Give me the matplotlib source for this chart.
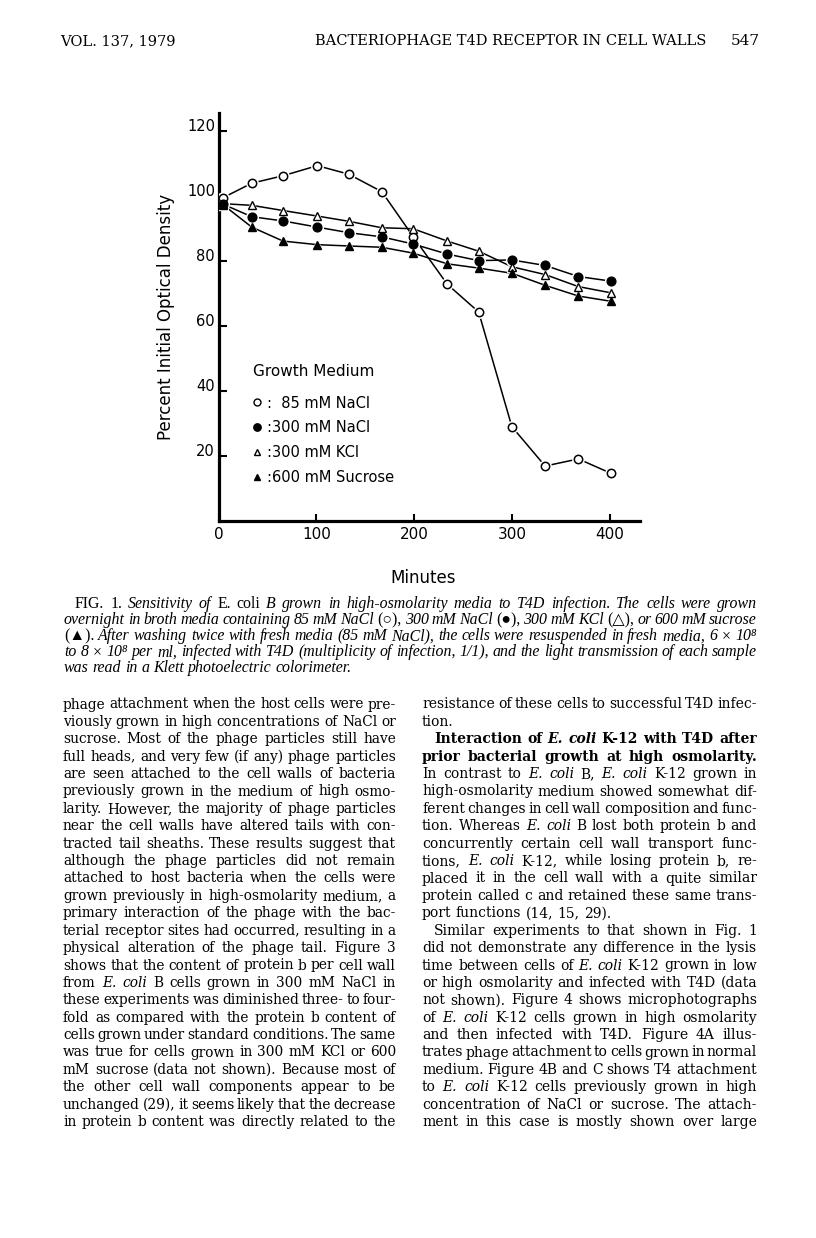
import numpy as np
import matplotlib
matplotlib.use("Agg")
import matplotlib.pyplot as plt
from matplotlib.lines import Line2D

W, H = 816, 1238
SERIF = ["DejaVu Serif", "DejaVu Sans"]
CAPTION_SERIF = ["Liberation Serif", "DejaVu Serif", "DejaVu Sans"]

# ===============================
# Chart data
# ===============================
minutes = [5, 34, 66, 101, 133, 167, 199, 234, 266, 300, 334, 368, 401]
nacl_85 = [99.5, 103.9, 106.2, 109.3, 106.7, 101.3, 87.5, 72.8, 64.3, 29.0, 16.9, 19.1, 14.7]
nacl_300 = [97.4, 93.6, 92.3, 90.4, 88.7, 87.4, 85.2, 82.1, 80.1, 80.3, 78.6, 75.2, 73.8]
kcl_300 = [97.6, 97.1, 95.5, 93.8, 92.2, 90.2, 89.9, 86.1, 83.0, 78.2, 75.8, 72.1, 70.2]
sucrose_600 = [97.2, 90.4, 86.1, 85.0, 84.6, 84.2, 82.4, 79.1, 77.8, 76.2, 72.5, 69.2, 67.6]

legend_title = "Growth Medium"
legend_labels = [":\u200785 mM NaCl", ":300 mM NaCl", ":300 mM KCl", ":600 mM Sucrose"]
x_ticks = [0, 100, 200, 300, 400]
y_ticks = [20, 40, 60, 80, 100, 120]

# ===============================
# Page text
# ===============================
header_left = "VOL. 137, 1979"
header_title = "BACTERIOPHAGE T4D RECEPTOR IN CELL WALLS"
header_page = "547"

caption_lines = [
    "_FIG._ _1._ Sensitivity of _E._ _coli_ B grown in high-osmolarity media to T4D infection. The cells were grown",
    "overnight in broth media containing 85 mM NaCl _(\u25cb),_ 300 mM NaCl _(\u25cf),_ 300 mM KCl _(\u25b3),_ or 600 mM sucrose",
    "_(\u25b2)._ After washing twice with fresh media (85 mM NaCl), the cells were resuspended in fresh media, 6 \u00d7 10\u2078",
    "to 8 \u00d7 10\u2078 per ml, infected with T4D (multiplicity of infection, 1/1), and the light transmission of each sample",
    "was read in a Klett photoelectric colorimeter.",
]

left_lines = [
    "phage attachment when the host cells were pre-",
    "viously grown in high concentrations of NaCl or",
    "sucrose. Most of the phage particles still have",
    "full heads, and very few (if any) phage particles",
    "are seen attached to the cell walls of bacteria",
    "previously grown in the medium of high osmo-",
    "larity. However, the majority of phage particles",
    "near the cell walls have altered tails with con-",
    "tracted tail sheaths. These results suggest that",
    "although the phage particles did not remain",
    "attached to host bacteria when the cells were",
    "grown previously in high-osmolarity medium, a",
    "primary interaction of the phage with the bac-",
    "terial receptor sites had occurred, resulting in a",
    "physical alteration of the phage tail. Figure 3",
    "shows that the content of protein b per cell wall",
    "from _E._ _coli_ B cells grown in 300 mM NaCl in",
    "these experiments was diminished three- to four-",
    "fold as compared with the protein b content of",
    "cells grown under standard conditions. The same",
    "was true for cells grown in 300 mM KCl or 600",
    "mM sucrose (data not shown). Because most of",
    "the other cell wall components appear to be",
    "unchanged (29), it seems likely that the decrease",
    "in protein b content was directly related to the",
]

right_lines = [
    "resistance of these cells to successful T4D infec-",
    "tion.",
    "Interaction of _E._ _coli_ K-12 with T4D after",
    "prior bacterial growth at high osmolarity.",
    "In contrast to _E._ _coli_ B, _E._ _coli_ K-12 grown in",
    "high-osmolarity medium showed somewhat dif-",
    "ferent changes in cell wall composition and func-",
    "tion. Whereas _E._ _coli_ B lost both protein b and",
    "concurrently certain cell wall transport func-",
    "tions, _E._ _coli_ K-12, while losing protein b, re-",
    "placed it in the cell wall with a quite similar",
    "protein called c and retained these same trans-",
    "port functions (14, 15, 29).",
    "Similar experiments to that shown in Fig. 1",
    "did not demonstrate any difference in the lysis",
    "time between cells of _E._ _coli_ K-12 grown in low",
    "or high osmolarity and infected with T4D (data",
    "not shown). Figure 4 shows microphotographs",
    "of _E._ _coli_ K-12 cells grown in high osmolarity",
    "and then infected with T4D. Figure 4A illus-",
    "trates phage attachment to cells grown in normal",
    "medium. Figure 4B and C shows T4 attachment",
    "to _E._ _coli_ K-12 cells previously grown in high",
    "concentration of NaCl or sucrose. The attach-",
    "ment in this case is mostly shown over large",
]
right_ragged = {1, 12}
right_indent = {2, 13}
right_bold = {2, 3}

# ===============================
# Figure + chart
# ===============================
fig = plt.figure(figsize=(W / 100, H / 100), dpi=100)
fig.patch.set_facecolor("white")

ax = fig.add_axes([218.5 / W, 1 - 521 / H, (640 - 218.5) / W, (521 - 113) / H])
ax.set_xlim(0, 431)
ax.set_ylim(0, 125.5)
for s in ["top", "right"]:
    ax.spines[s].set_visible(False)
for s in ["left", "bottom"]:
    ax.spines[s].set_linewidth(2.3)

ax.set_xticks(x_ticks)
ax.set_yticks(y_ticks)
ax.tick_params(axis="x", direction="in", length=5, width=1.5, pad=4, labelsize=11)
ax.tick_params(axis="y", direction="in", length=5.5, width=1.5, pad=2.5, labelsize=10.5)
for lab in ax.get_yticklabels():
    lab.set_verticalalignment("baseline")

series = [
    (nacl_85, dict(marker="o", mfc="white", mec="black", ms=6, mew=1.1)),
    (nacl_300, dict(marker="o", mfc="black", mec="black", ms=6.3, mew=1.0)),
    (kcl_300, dict(marker="^", mfc="white", mec="black", ms=5.5, mew=1.0)),
    (sucrose_600, dict(marker="^", mfc="black", mec="black", ms=5.5, mew=1.0)),
]

for vals, st in series:
    ax.plot(minutes, vals, color="black", lw=1.1, zorder=2)
# little white halos so the lines stop short of the symbols
for vals, st in series:
    ax.plot(minutes, vals, ls="none", marker=st["marker"], ms=st["ms"] + 2.2,
            mfc="white", mec="white", zorder=3)
for vals, st in series:
    ax.plot(minutes, vals, ls="none", zorder=4, **st)

ax.set_ylabel("Percent Initial Optical Density", fontsize=12)
ax.yaxis.set_label_coords((166 - 218.5) / 421.5, 0.5)
ax.yaxis.label.set_verticalalignment("center")
ax.set_xlabel("Minutes", fontsize=12)
ax.xaxis.set_label_coords((423 - 218.5) / 421.5, (521 - 578) / 408)
ax.xaxis.label.set_verticalalignment("center")

ax.text((253 - 218.5) / 421.5, (521 - 372) / 408, legend_title, transform=ax.transAxes,
        fontsize=11, va="center", ha="left")
handles = [Line2D([], [], ls="none", marker=st["marker"], mfc=st["mfc"], mec="black",
                  ms=st["ms"] - 1, mew=1.0) for _, st in series]
ax.legend(handles, legend_labels, loc="upper left",
          bbox_to_anchor=((253 - 218.5) / 421.5, (521 - 395.5) / 408),
          frameon=False, borderpad=0, borderaxespad=0, handlelength=0.6,
          handletextpad=0.35, labelspacing=0.68, fontsize=10.5)

# ===============================
# Text helpers (justified columns)
# ===============================
renderer = fig.canvas.get_renderer()

STYLES = {
    "roman": dict(style="normal", weight="normal"),
    "italic": dict(style="italic", weight="normal"),
    "bold": dict(style="normal", weight="bold"),
    "bolditalic": dict(style="italic", weight="bold"),
}
TOGGLE = {"roman": "italic", "italic": "roman", "bold": "bolditalic"}


def make_words(line, base, size, family):
    arts = []
    for tok in line.split(" "):
        st = base
        if len(tok) > 2 and tok.startswith("_") and tok.endswith("_"):
            tok = tok[1:-1]
            st = TOGGLE[base]
        arts.append(fig.text(0, 0, tok, fontsize=size, family=family,
                             va="baseline", ha="left", color="black", **STYLES[st]))
    return arts


def space_width(base, size, family):
    a = fig.text(0, 0, "n n", fontsize=size, family=family, **STYLES[base])
    b = fig.text(0, 0, "nn", fontsize=size, family=family, **STYLES[base])
    w = a.get_window_extent(renderer).width - b.get_window_extent(renderer).width
    a.remove()
    b.remove()
    return w


def widths(arts):
    return [a.get_window_extent(renderer).width for a in arts]


def layout_block(lines, bases, x0, x1, y0, dy, ragged, indents, indent_px,
                 trial=9.0, family=SERIF):
    col = x1 - x0
    all_arts = [make_words(l, b, trial, family) for l, b in zip(lines, bases)]
    sp = space_width(bases[0], trial, family)
    r_norm, r_min = [], []
    for i, arts in enumerate(all_arts):
        if i in ragged:
            continue
        w = sum(widths(arts)) + (indent_px if i in indents else 0)
        n = len(arts) - 1
        r_norm.append((w + n * sp) / col)
        r_min.append((w + 0.55 * n * sp) / col)
    f = min(1 / np.median(r_norm), 1 / max(r_min))
    size = trial * f
    sp = space_width(bases[0], size, family)
    for i, arts in enumerate(all_arts):
        for a in arts:
            a.set_fontsize(size)
        ws = widths(arts)
        start = x0 + (indent_px if i in indents else 0)
        if i in ragged or len(arts) == 1:
            gap = sp
        else:
            gap = (x1 - start - sum(ws)) / (len(arts) - 1)
        x = start
        y = y0 + i * dy
        for a, w in zip(arts, ws):
            a.set_position((x / W, 1 - y / H))
            x += w + gap
    return size


# Running header
t = fig.text(0, 0, header_title, fontsize=10, family=SERIF, va="baseline")
tw = t.get_window_extent(renderer).width
hsize = 10 * 390 / tw
t.set_fontsize(hsize)
t.set_position((315 / W, 1 - 45 / H))
fig.text(60 / W, 1 - 45 / H, header_left, fontsize=hsize, family=SERIF, va="baseline", ha="left")
fig.text(760 / W, 1 - 45 / H, header_page, fontsize=hsize * 1.05, family=SERIF,
         va="baseline", ha="right")

# Caption
layout_block(caption_lines, ["italic"] * len(caption_lines), 64, 757, 608.5, 16.0,
             ragged={len(caption_lines) - 1}, indents={0}, indent_px=11, trial=9.0,
             family=CAPTION_SERIF)

# Body columns
layout_block(left_lines, ["roman"] * len(left_lines), 63, 396, 708.5, 17.4,
             ragged=set(), indents=set(), indent_px=0)
layout_block(right_lines, ["bold" if i in right_bold else "roman" for i in range(len(right_lines))],
             422, 757, 708.5, 17.4, ragged=right_ragged, indents=right_indent, indent_px=12)

fig.savefig("out.png", dpi=100, facecolor="white")
